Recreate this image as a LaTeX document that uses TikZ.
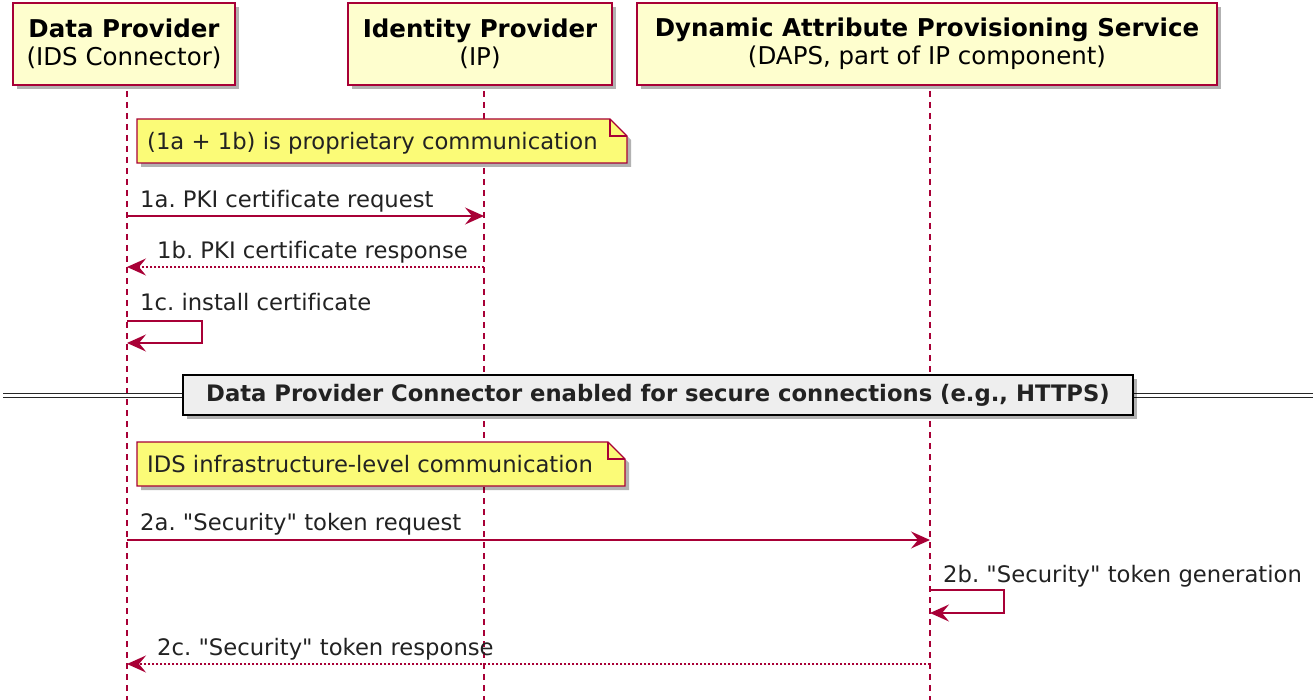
\documentclass[tikz,border=0pt]{standalone}
\usepackage{fontspec}
\setmainfont{DejaVu Sans}[Ligatures={TeXOff,CommonOff}]
\frenchspacing
\usetikzlibrary{arrows.meta,shadows}
\definecolor{pu}{HTML}{A80036}
\definecolor{pbox}{HTML}{FEFECE}
\definecolor{pnote}{HTML}{FBFB77}
\definecolor{pdiv}{HTML}{EEEEEE}
\definecolor{ptext}{HTML}{222222}
\begin{document}
\begin{tikzpicture}[x=1pt,y=-1pt,
  shd/.style={drop shadow={shadow xshift=4pt,shadow yshift=-4pt,opacity=0.3,fill=black}},
  participant/.style={draw=pu, fill=pbox, line width=1.4pt, align=center, inner sep=0pt, shd,
    font=\fontsize{24.5}{28}\selectfont},
  lifeline/.style={draw=pu, line width=1.1pt, dash pattern=on 6pt off 5pt},
  msg/.style={draw=pu, line width=1.3pt, -{Stealth[length=19pt,width=17pt,inset=7pt]}},
  reply/.style={msg, dash pattern=on 2pt off 2pt},
  lbl/.style={font=\fontsize{22.7}{27}\selectfont, text=ptext, anchor=base west, inner sep=0pt},
  notebox/.style={draw=pu, fill=pnote, line width=1.3pt, shd},
  divider/.style={draw=black, fill=pdiv, line width=2.2pt, inner sep=0pt, shd,
    font=\fontsize{22.7}{27}\selectfont\bfseries, text=ptext},
  dline/.style={draw=black!85, double=white, double distance=2.2pt, line width=1.5pt}
]
\useasboundingbox (0,0) rectangle (1313,700);

% participants
\node[participant, minimum width=222pt, minimum height=82pt] (dp) at (124,44)
  {\textbf{Data Provider}\\(IDS Connector)};
\node[participant, minimum width=264pt, minimum height=82pt] (ip) at (480,44)
  {\textbf{Identity Provider}\\(IP)};
\node[participant, minimum width=580pt, minimum height=82pt] (daps) at (927,44)
  {\textbf{Dynamic Attribute Provisioning Service}\\(DAPS, part of IP component)};

% lifelines
\coordinate (dpT) at (127,91);  \coordinate (dpB) at (127,700);
\coordinate (ipT) at (484,91);  \coordinate (ipB) at (484,700);
\coordinate (daT) at (930,91);  \coordinate (daB) at (930,700);
\draw[lifeline] (dpT) -- (dpB);
\draw[lifeline] (ipT) -- (ipB);
\draw[lifeline] (daT) -- (daB);

% note 1
\path[notebox] (137,119) -- (610,119) -- (627,136) -- (627,163) -- (137,163) -- cycle;
\draw[pu, line width=1.3pt] (610,119) -- (610,136) -- (627,136);
\node[lbl] (n1) at (147,150) {(1a + 1b) is proprietary communication};

% 1a
\coordinate (m1aS) at (127,216); \coordinate (m1aE) at (484,216);
\draw[msg] (m1aS) -- (m1aE);
\node[lbl] (l1a) at (140,208) {1a. PKI certificate request};

% 1b
\coordinate (m1bS) at (484,267); \coordinate (m1bE) at (127,267);
\draw[reply] (m1bS) -- (m1bE);
\node[lbl] (l1b) at (157,259) {1b. PKI certificate response};

% 1c
\coordinate (m1cS) at (127,321); \coordinate (m1cE) at (127,343);
\draw[msg] (m1cS) -- ++(75,0) -- ++(0,22) -- (m1cE);
\node[lbl] (l1c) at (140,311) {1c. install certificate};

% divider
\coordinate (dvL) at (3,395.5); \coordinate (dvR) at (1313,395.5);
\draw[dline] (dvL) -- (dvR);
\node[divider, minimum width=950pt, minimum height=40pt] (div) at (658,395)
  {Data Provider Connector enabled for secure connections (e.g., HTTPS)};

% note 2
\path[notebox] (137,442) -- (608,442) -- (625,459) -- (625,486) -- (137,486) -- cycle;
\draw[pu, line width=1.3pt] (608,442) -- (608,459) -- (625,459);
\node[lbl] (n2) at (147,472) {IDS infrastructure-level communication};

% 2a
\coordinate (m2aS) at (127,540); \coordinate (m2aE) at (930,540);
\draw[msg] (m2aS) -- (m2aE);
\node[lbl] (l2a) at (140,530) {2a. "Security" token request};

% 2b
\coordinate (m2bS) at (930,590); \coordinate (m2bE) at (930,613);
\draw[msg] (m2bS) -- ++(74,0) -- ++(0,23) -- (m2bE);
\node[lbl] (l2b) at (943,582) {2b. "Security" token generation};

% 2c
\coordinate (m2cS) at (930,664); \coordinate (m2cE) at (127,664);
\draw[reply] (m2cS) -- (m2cE);
\node[lbl] (l2c) at (157,655) {2c. "Security" token response};
\end{tikzpicture}
\end{document}
